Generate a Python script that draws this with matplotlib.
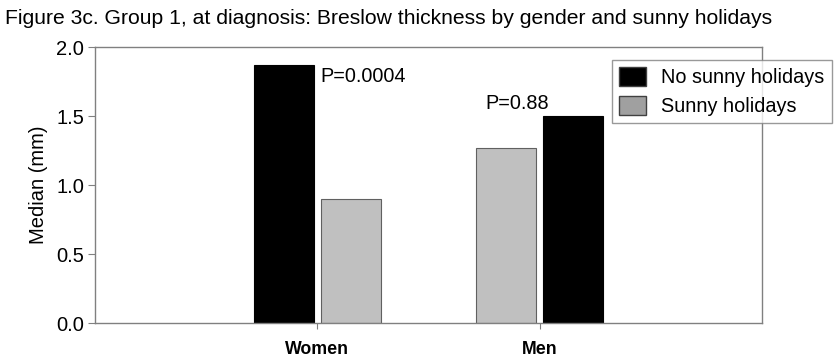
import matplotlib
matplotlib.use('Agg')
import matplotlib.pyplot as plt
from matplotlib.patches import Patch
import numpy as np

plt.rcParams['font.family'] = ['Liberation Sans', 'DejaVu Sans']

groups = ['Women', 'Men']
no_sunny = [1.87, 1.50]
sunny = [0.90, 1.27]
p_labels = ['P=0.0004', 'P=0.88']
yticks = [0.0, 0.5, 1.0, 1.5, 2.0]

fig = plt.figure(figsize=(8.38, 3.63), dpi=100)
ax = fig.add_axes([0.1134, 0.110, 0.7959, 0.7605])

x = np.arange(1, len(groups) + 1)
w = 0.27
off = 0.151
# women: black left of gray, men: gray left of black (as in the original)
ax.bar(x[0] - off, no_sunny[0], w, color='black', edgecolor='black', linewidth=0.8)
ax.bar(x[0] + off, sunny[0], w, color='#c0c0c0', edgecolor='#606060', linewidth=0.8)
ax.bar(x[1] - off, sunny[1], w, color='#c0c0c0', edgecolor='#606060', linewidth=0.8)
ax.bar(x[1] + off, no_sunny[1], w, color='black', edgecolor='black', linewidth=0.8)

ax.text(1.013, 1.75, p_labels[0], fontsize=14.3, va='baseline', ha='left')
ax.text(1.757, 1.55, p_labels[1], fontsize=14.3, va='baseline', ha='left')

ax.set_xlim(0, 3)
ax.set_ylim(0, 2.0)
ax.set_yticks(yticks)
ax.set_yticklabels(['%.1f' % v for v in yticks], fontsize=14.5)
ax.set_xticks(x)
ax.set_xticklabels(groups, fontsize=12.8, fontweight='bold')
ax.tick_params(axis='y', direction='out', length=5, color='#808080', pad=3)
ax.tick_params(axis='x', direction='out', length=4, color='#808080', pad=9)
for s in ax.spines.values():
    s.set_color('#808080')
    s.set_linewidth(1.0)
ax.set_ylabel('Median (mm)', fontsize=14.5, labelpad=6)

fig.text(0.006, 0.935, 'Figure 3c. Group 1, at diagnosis: Breslow thickness by gender and sunny holidays',
         fontsize=15.2, va='baseline', ha='left')

handles = [Patch(facecolor='black', edgecolor='#404040', label='No sunny holidays'),
           Patch(facecolor='#a0a0a0', edgecolor='#404040', label='Sunny holidays')]
leg = fig.legend(handles=handles, loc='upper left', bbox_to_anchor=(0.730, 0.835),
                 borderaxespad=0, fontsize=14.3, frameon=True, fancybox=False, borderpad=0.35,
                 handlelength=1.4, handleheight=1.1, handletextpad=0.75, labelspacing=0.45)
leg.get_frame().set_edgecolor('#808080')
leg.get_frame().set_linewidth(1.0)

plt.savefig('out.png', dpi=100)
